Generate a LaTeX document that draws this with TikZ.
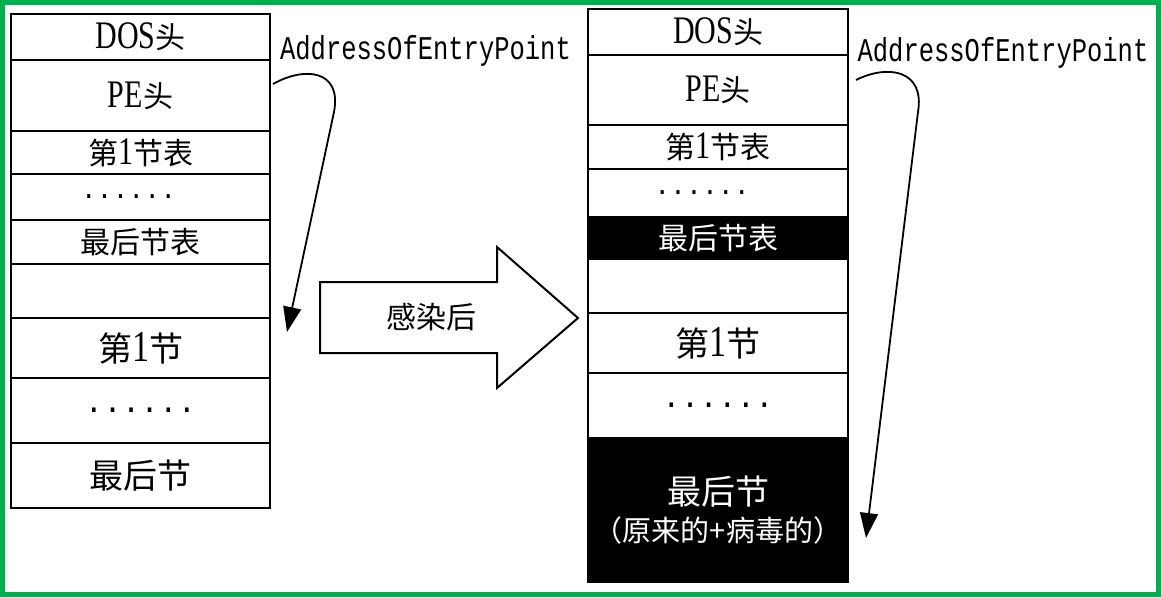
\documentclass[tikz,border=0pt]{standalone}
\usepackage{fontspec}
\setmainfont{Noto Sans CJK SC}
\newfontfamily\latf{Liberation Serif}
\newfontfamily\monof{Liberation Mono}
\usetikzlibrary{arrows.meta}
\definecolor{framegreen}{RGB}{0,176,80}
\newcommand\tabsize{\fontsize{30}{32}\selectfont}
\newcommand\secsize{\fontsize{34}{36}\selectfont}
\newcommand\tall[1]{\scalebox{1}[1.3]{#1}}
\newcommand\sdots{\monof\fontsize{26.5}{28}\selectfont}
\newcommand\bdots{\monof\fontsize{31}{33}\selectfont}

\begin{document}
\begin{tikzpicture}[x=1pt,y=-1pt,>={Triangle[width=18pt,length=25pt]},
  cell/.style={draw,line width=2.5pt,inner sep=0pt,minimum width=259pt,align=center},
  blackcell/.style={cell,fill=black,text=white},
  entry/.style={font=\monof\fontsize{25.5}{27}\selectfont,inner sep=0pt}]
\useasboundingbox (0,0) rectangle (1161,597);
\draw[framegreen,line width=5pt] (2.5,2.5) rectangle (1158.5,594.5);
% before infection
\foreach \n/\t/\b/\s/\txt in {dos/14/60/cell/{\tabsize\tall{\latf DOS}头},
  pe/60/131/cell/{\tabsize\tall{\latf PE}头},
  tabA/131/174/cell/{\tabsize 第\tall{\latf 1}节表},
  tabdots/174/220/cell/{\sdots......\kern24pt},
  tabZ/220/264/cell/{\tabsize 最后节表},
  gap/264/318/cell/{},
  secA/318/378/cell/{\secsize 第\tall{\latf 1}节},
  secdots/378/443/cell/{\bdots......},
  secZ/443/508/cell/{\secsize 最后节}}{
  \pgfmathsetmacro\h{\b-\t}
  \node[\s,minimum height=\h pt] (L\n) at (140.5,{(\t+\b)/2}) {\txt};}
% after infection
\foreach \n/\t/\b/\s/\txt in {dos/9/55/cell/{\tabsize\tall{\latf DOS}头},
  pe/55/125/cell/{\tabsize\tall{\latf PE}头},
  tabA/125/169/cell/{\tabsize 第\tall{\latf 1}节表},
  tabdots/169/217/cell/{\sdots......\kern32pt},
  tabZ/217/259/blackcell/{\tabsize 最后节表},
  gap/259/313/cell/{},
  secA/313/373/cell/{\secsize 第\tall{\latf 1}节},
  secdots/373/438/cell/{\bdots......},
  secZ/438/582/blackcell/{\secsize 最后节\\[8pt]\fontsize{29}{32}\selectfont （原来的+病毒的）}}{
  \pgfmathsetmacro\h{\b-\t}
  \node[\s,minimum height=\h pt,minimum width=260pt] (R\n) at (718,{(\t+\b)/2}) {\txt};}
% big arrow
\draw[line width=2pt] (320,282) -- (497,282) -- (497,247) -- (578,318)
  -- (497,388) -- (497,353) -- (320,353) -- cycle;
\node[font=\fontsize{30}{32}\selectfont] (infect) at (431,317) {感染后};
% entry point
\node[entry] (addrL) at (425.5,51) {\tall{AddressOfEntryPoint}};
\node[entry] (addrR) at (1003,53) {\tall{AddressOfEntryPoint}};
\coordinate (fromL) at (273,84);
\coordinate (toL) at (287,332);
\coordinate (fromR) at (856,80);
\coordinate (toR) at (866,538);
\draw[->,line width=1.8pt] (fromL) .. controls (305,66) and (342,70) .. (334,112) -- (toL);
\draw[->,line width=1.8pt] (fromR) .. controls (888,64) and (925,70) .. (918,112) -- (toR);
\end{tikzpicture}
\end{document}
